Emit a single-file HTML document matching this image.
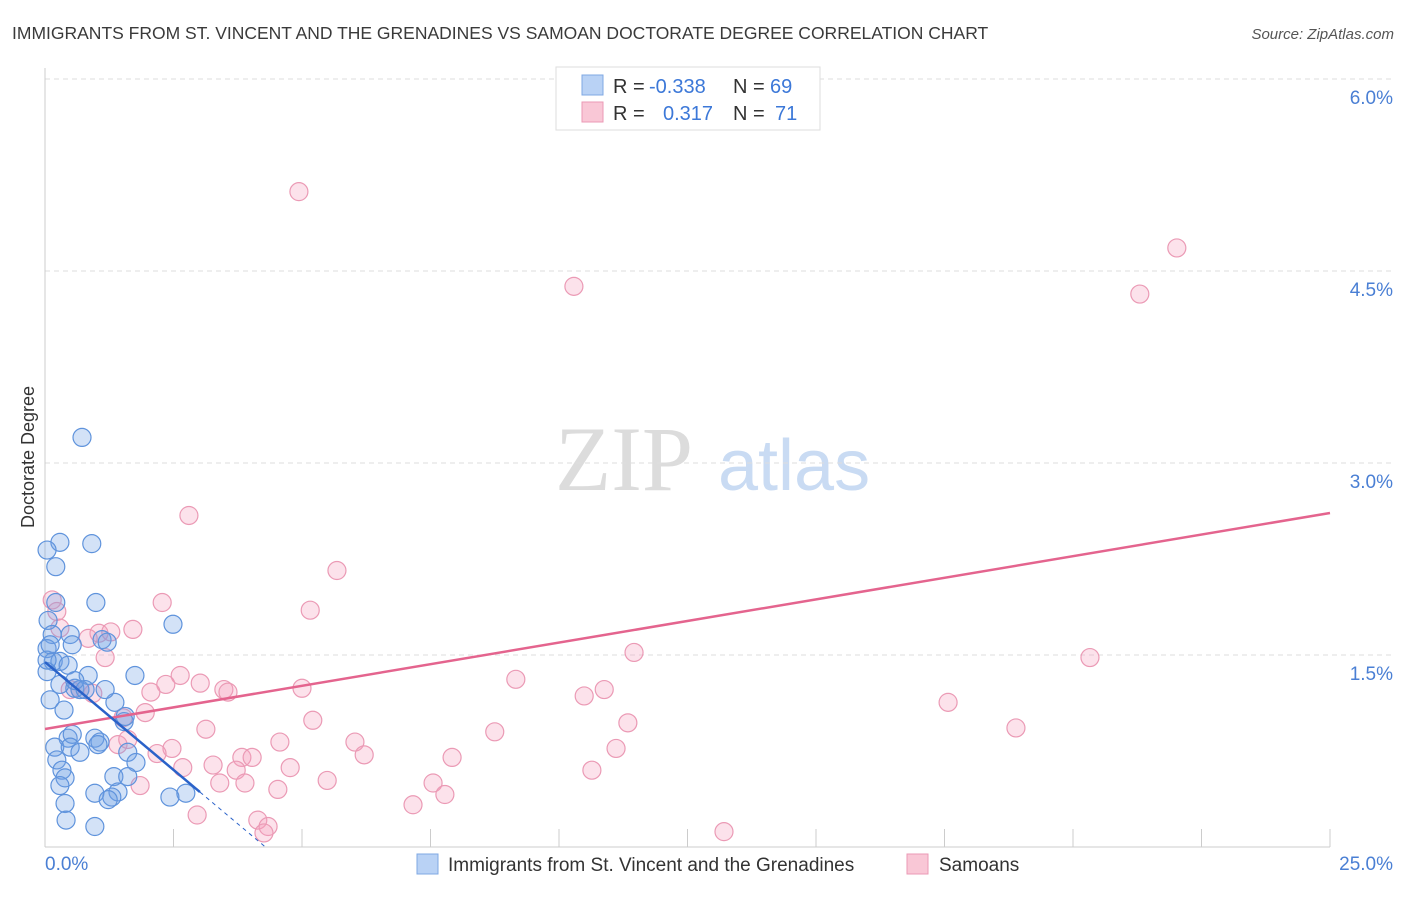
<!DOCTYPE html>
<html><head><meta charset="utf-8">
<style>
body{margin:0;background:#fff;font-family:"Liberation Sans",sans-serif;}
svg text{font-family:"Liberation Sans",sans-serif;}
</style></head>
<body>
<svg id="chart" width="1406" height="892" xmlns="http://www.w3.org/2000/svg">
<text x="12" y="39" font-size="17.5" fill="#3a3a3a">IMMIGRANTS FROM ST. VINCENT AND THE GRENADINES VS SAMOAN DOCTORATE DEGREE CORRELATION CHART</text>
<text x="1394" y="39" font-size="15" fill="#555" text-anchor="end" font-style="italic">Source: ZipAtlas.com</text>
<g>
<text x="555" y="490" font-size="92" fill="#dcdcdc" font-family="Liberation Serif" style="font-family:'Liberation Serif',serif">ZIP</text>
<text x="718" y="490" font-size="72" fill="#c9dbf3">atlas</text>
</g>
<g id="grid"></g>
<g id="axes"></g>
<g id="pts"></g>
<g id="lines"></g>
<g>
<rect x="556" y="67" width="264" height="63" fill="#fff" stroke="#ddd"/>
<rect x="582" y="75" width="21" height="20" fill="#b9d2f5" stroke="#7fa8e3"/>
<rect x="582" y="102" width="21" height="20" fill="#f9c7d6" stroke="#eb9ab5"/>
<text x="613" y="93" font-size="20" fill="#333">R =</text>
<text x="649" y="93" font-size="20" fill="#3c78d8">-0.338</text>
<text x="733" y="93" font-size="20" fill="#333">N =</text>
<text x="770" y="93" font-size="20" fill="#3c78d8">69</text>
<text x="613" y="120" font-size="20" fill="#333">R =</text>
<text x="663" y="120" font-size="20" fill="#3c78d8">0.317</text>
<text x="733" y="120" font-size="20" fill="#333">N =</text>
<text x="775" y="120" font-size="20" fill="#3c78d8">71</text>
</g>
<g>
<rect x="417" y="854" width="21" height="20" fill="#b9d2f5" stroke="#7fa8e3"/>
<text x="448" y="871" font-size="19" fill="#333">Immigrants from St. Vincent and the Grenadines</text>
<rect x="907" y="854" width="21" height="20" fill="#f9c7d6" stroke="#eb9ab5"/>
<text x="939" y="871" font-size="19" fill="#333">Samoans</text>
</g>
<text transform="translate(34,457) rotate(-90)" font-size="18" fill="#333" text-anchor="middle">Doctorate Degree</text>
</svg>
<script>
const xTicks=[0,2.5,5,7.5,10,12.5,15,17.5,20,22.5,25];
const yTicks=[1.5,3.0,4.5,6.0];
const yTickLabels=["1.5%","3.0%","4.5%","6.0%"];
const xEndLabels=["0.0%","25.0%"];
const blueX=[0.72,0.29,0.91,0.04,0.21,0.99,0.21,2.49,0.06,0.14,0.49,1.11,1.21,0.53,0.04,0.16,0.29,0.45,0.84,0.04,0.58,0.68,1.75,0.10,1.36,0.37,1.54,1.56,0.97,0.45,0.53,1.07,0.19,0.49,0.68,1.61,0.23,1.77,0.33,1.34,1.61,0.39,0.29,1.42,0.97,1.30,1.23,2.74,2.43,0.39,0.41,0.97,0.04,0.10,0.29,1.17,1.03,0.58,0.78];
const blueY=[3.20,2.38,2.37,2.32,2.19,1.91,1.91,1.74,1.77,1.66,1.66,1.62,1.60,1.58,1.55,1.45,1.45,1.42,1.34,1.37,1.24,1.23,1.34,1.15,1.13,1.07,0.98,1.02,0.85,0.85,0.88,0.82,0.78,0.78,0.74,0.74,0.68,0.66,0.60,0.55,0.55,0.54,0.48,0.43,0.42,0.39,0.37,0.42,0.39,0.34,0.21,0.16,1.46,1.58,1.27,1.23,0.80,1.30,1.23];
const pinkX=[4.94,22.02,10.29,21.30,2.80,5.68,5.16,2.28,0.14,0.23,0.29,1.05,1.28,1.71,0.84,1.17,2.63,3.02,2.35,2.06,3.48,5.00,3.56,0.49,0.93,0.68,9.16,10.49,10.88,11.46,20.33,17.57,1.95,5.21,11.34,1.52,3.13,18.89,8.75,1.42,1.61,2.47,2.18,4.57,6.03,6.21,3.83,4.03,11.11,2.68,3.27,3.72,4.77,7.92,10.64,5.49,3.40,3.89,7.55,1.85,4.53,7.78,7.16,2.96,4.14,4.34,4.26,13.21,12.63];
const pinkY=[5.12,4.68,4.38,4.32,2.59,2.16,1.85,1.91,1.93,1.84,1.71,1.67,1.68,1.70,1.63,1.48,1.34,1.28,1.27,1.21,1.23,1.24,1.21,1.23,1.20,1.23,1.31,1.18,1.23,1.52,1.48,1.13,1.05,0.99,0.97,1.01,0.92,0.93,0.90,0.80,0.84,0.77,0.73,0.82,0.82,0.72,0.70,0.70,0.77,0.62,0.64,0.60,0.62,0.70,0.60,0.52,0.50,0.50,0.50,0.48,0.45,0.41,0.33,0.25,0.21,0.16,0.11,0.12,5.77];
const blueTrend=[1.445,-0.337];
const blueSolidEnd=3.015;
const pinkTrend=[0.922,0.0675];

const X=v=>45+v*51.4;
const Y=v=>847-v*128;
const NS="http://www.w3.org/2000/svg";
function mk(tag,parent,attrs){const e=document.createElementNS(NS,tag);for(const k in attrs)e.setAttribute(k,attrs[k]);document.getElementById(parent).appendChild(e);return e;}

yTicks.forEach((t,i)=>{
  const g=mk('line','grid',{x1:45,x2:1393,y1:Y(t),y2:Y(t),stroke:'#dedede','stroke-dasharray':'5,4'});
  
  
  const tx=mk('text','axes',{x:1393,y:Y(t)+25,'font-size':19,fill:'#4a7fd4','text-anchor':'end'});
  tx.textContent=yTickLabels[i];
  
  
});
const ya=mk('line','axes',{x1:45,x2:45,y1:68,y2:847,stroke:'#ccc'});


const xa=mk('line','axes',{x1:45,x2:1330,y1:847,y2:847,stroke:'#ccc'});


xTicks.forEach(t=>{
  const l=mk('line','axes',{x1:X(t),x2:X(t),y1:829,y2:847,stroke:'#ccc'});
  
  
});
const xl0=mk('text','axes',{x:45,y:870,'font-size':19,fill:'#4a7fd4'});
xl0.textContent=xEndLabels[0];


const xl1=mk('text','axes',{x:1393,y:870,'font-size':19,fill:'#4a7fd4','text-anchor':'end'});
xl1.textContent=xEndLabels[1];



pinkX.forEach((x,i)=>{
  const c=mk('circle','pts',{cx:X(x),cy:Y(pinkY[i]),r:9,fill:'rgba(244,160,188,0.3)',stroke:'#eb9ab5','stroke-width':1.2});
  
  
});
blueX.forEach((x,i)=>{
  const c=mk('circle','pts',{cx:X(x),cy:Y(blueY[i]),r:9,fill:'rgba(110,160,230,0.3)',stroke:'#5f93dc','stroke-width':1.2});
  
  
});
const pl=mk('line','lines',{x1:X(0),y1:Y(pinkTrend[0]),x2:X(25),y2:Y(pinkTrend[0]+pinkTrend[1]*25),stroke:'#e4648e','stroke-width':2.5});


const bl=mk('line','lines',{x1:X(0),y1:Y(blueTrend[0]),x2:X(blueSolidEnd),y2:Y(blueTrend[0]+blueTrend[1]*blueSolidEnd),stroke:'#2a62c9','stroke-width':2.5});


const zx=-blueTrend[0]/blueTrend[1];
const bd=mk('line','lines',{x1:X(blueSolidEnd),y1:Y(blueTrend[0]+blueTrend[1]*blueSolidEnd),x2:X(zx),y2:Y(0),stroke:'#2a62c9','stroke-width':1,'stroke-dasharray':'4,4'});


</script>
</body></html>
